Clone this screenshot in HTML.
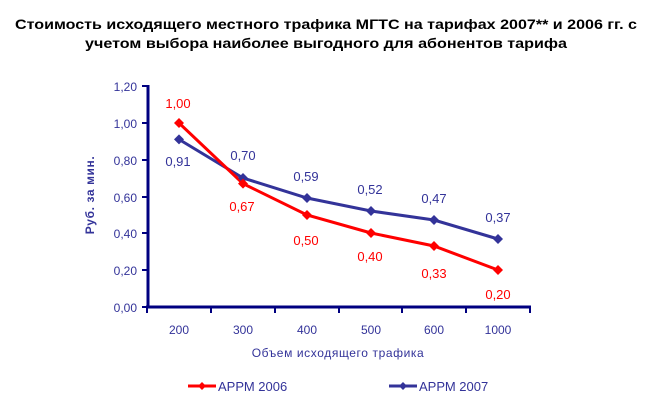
<!DOCTYPE html>
<html><head><meta charset="utf-8"><style>body{margin:0;background:#fff}svg{display:block}</style></head><body>
<svg width="651" height="408" xmlns="http://www.w3.org/2000/svg" font-family="'Liberation Sans','DejaVu Sans',sans-serif">
<text x="326" y="29" font-size="14" font-weight="bold" text-anchor="middle" textLength="622" lengthAdjust="spacingAndGlyphs" fill="#000">Стоимость исходящего местного трафика МГТС на тарифах 2007** и 2006 гг. с</text>
<text x="326" y="48" font-size="14" font-weight="bold" text-anchor="middle" textLength="482" lengthAdjust="spacingAndGlyphs" fill="#000">учетом выбора наиболее выгодного для абонентов тарифа</text>
<g stroke="#000080" stroke-width="3" fill="none">
<line x1="148" y1="85" x2="148" y2="308"/>
<line x1="146" y1="307" x2="531" y2="307"/>
</g>
<g stroke="#000080" stroke-width="2">
<line x1="142" y1="86" x2="148" y2="86"/><line x1="142" y1="123" x2="148" y2="123"/><line x1="142" y1="160" x2="148" y2="160"/><line x1="142" y1="197" x2="148" y2="197"/><line x1="142" y1="233" x2="148" y2="233"/><line x1="142" y1="270" x2="148" y2="270"/><line x1="142" y1="307" x2="148" y2="307"/>
<line x1="147" y1="307" x2="147" y2="313"/><line x1="211" y1="307" x2="211" y2="313"/><line x1="275" y1="307" x2="275" y2="313"/><line x1="339" y1="307" x2="339" y2="313"/><line x1="402" y1="307" x2="402" y2="313"/><line x1="466" y1="307" x2="466" y2="313"/><line x1="530" y1="307" x2="530" y2="313"/>
</g>
<g font-size="12" fill="#333399" text-anchor="end">
<text x="137" y="91">1,20</text><text x="137" y="128">1,00</text><text x="137" y="165">0,80</text><text x="137" y="202">0,60</text><text x="137" y="238">0,40</text><text x="137" y="275">0,20</text><text x="137" y="312">0,00</text>
</g>
<g font-size="12" fill="#333399" text-anchor="middle">
<text x="179" y="334">200</text><text x="243" y="334">300</text><text x="307" y="334">400</text><text x="371" y="334">500</text><text x="434" y="334">600</text><text x="498" y="334">1000</text>
<text x="338" y="357" letter-spacing="0.6">Объем исходящего трафика</text>
<text transform="translate(94,195) rotate(-90)" font-weight="bold" letter-spacing="0.6">Руб. за мин.</text>
</g>
<polyline points="179,139.4 243,178 307,198 371,211 434,220 498,239" fill="none" stroke="#333399" stroke-width="3"/>
<polyline points="179,123 243,183.6 307,215 371,233 434,246 498,270" fill="none" stroke="#ff0000" stroke-width="3"/>
<g fill="#333399">
<path d="M179,134.4l5,5-5,5-5-5z"/><path d="M243,173l5,5-5,5-5-5z"/><path d="M307,193l5,5-5,5-5-5z"/><path d="M371,206l5,5-5,5-5-5z"/><path d="M434,215l5,5-5,5-5-5z"/><path d="M498,234l5,5-5,5-5-5z"/>
</g>
<g fill="#ff0000">
<path d="M179,118l5,5-5,5-5-5z"/><path d="M243,178.6l5,5-5,5-5-5z"/><path d="M307,210l5,5-5,5-5-5z"/><path d="M371,228l5,5-5,5-5-5z"/><path d="M434,241l5,5-5,5-5-5z"/><path d="M498,265l5,5-5,5-5-5z"/>
</g>
<g font-size="13" fill="#ff0000" text-anchor="middle">
<text x="178" y="108">1,00</text><text x="242" y="211">0,67</text><text x="306" y="245">0,50</text><text x="370" y="261">0,40</text><text x="434" y="278">0,33</text><text x="498" y="299">0,20</text>
</g>
<g font-size="13" fill="#333399" text-anchor="middle">
<text x="178" y="166">0,91</text><text x="243" y="160">0,70</text><text x="306" y="181">0,59</text><text x="370" y="194">0,52</text><text x="434" y="203">0,47</text><text x="498" y="222">0,37</text>
</g>
<line x1="188" y1="386" x2="216" y2="386" stroke="#ff0000" stroke-width="3"/><path d="M202,382l4,4-4,4-4-4z" fill="#ff0000"/>
<text x="218" y="391" font-size="13" fill="#333399">АРРМ 2006</text>
<line x1="389" y1="386" x2="417" y2="386" stroke="#333399" stroke-width="3"/><path d="M403,382l4,4-4,4-4-4z" fill="#333399"/>
<text x="419" y="391" font-size="13" fill="#333399">АРРМ 2007</text>
</svg>
</body></html>
